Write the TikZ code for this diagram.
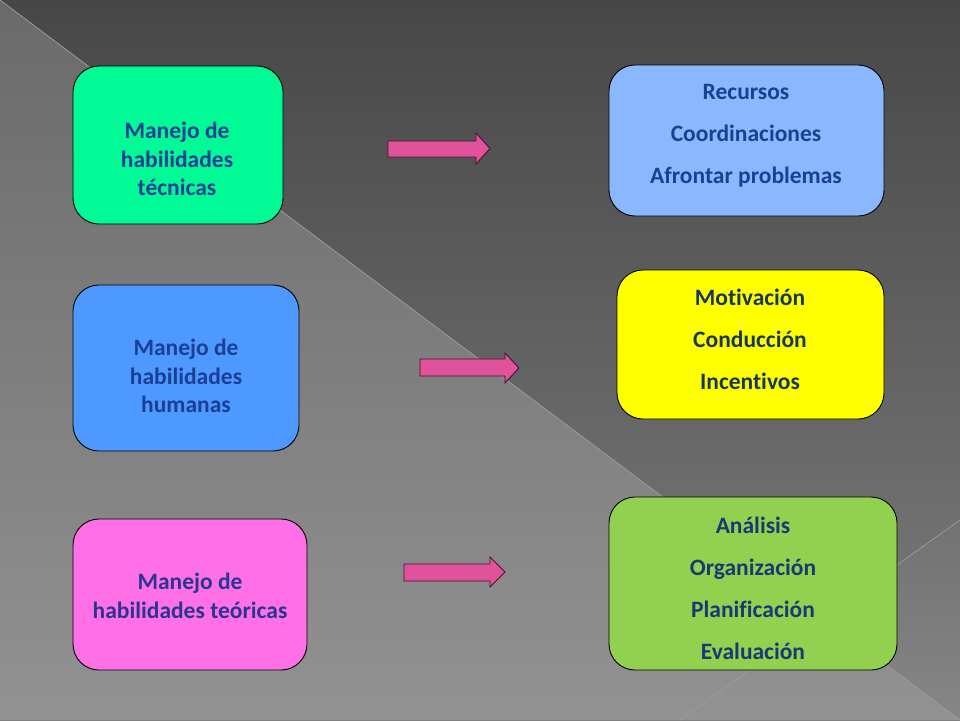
\documentclass[tikz,border=0pt]{standalone}
\usepackage{fontspec}
\setmainfont{Carlito}[Ligatures={NoCommon}]
\definecolor{bgtop}{HTML}{474747}
\definecolor{bgmid}{HTML}{7E7E7E}
\definecolor{lltop}{HTML}{6A6A6A}
\definecolor{llbot}{HTML}{929292}
\definecolor{rttop}{HTML}{727272}
\definecolor{rtbot}{HTML}{868686}
\definecolor{diag}{HTML}{9C9C9C}
\definecolor{cgreen}{HTML}{00FA96}
\definecolor{cblue}{HTML}{4D99FF}
\definecolor{cpink}{HTML}{FF70E6}
\definecolor{clblue}{HTML}{8AB8FF}
\definecolor{cyellow}{HTML}{FFFF00}
\definecolor{clgreen}{HTML}{92D050}
\definecolor{txtblue}{HTML}{1A3F94}
\definecolor{txtdark}{HTML}{17375E}
\definecolor{arrfill}{HTML}{E0529A}
\definecolor{arrdraw}{HTML}{4A1030}
\tikzset{
  box/.style={draw=black, line width=0.9pt, rounded corners=26pt, inner sep=0pt},
  lefttxt/.style={text=txtblue, align=center, font=\fontsize{23.5}{28.5}\selectfont\bfseries, inner sep=0pt},
  righttxt/.style={text=txtblue, align=center, font=\fontsize{23.5}{42}\selectfont\bfseries, inner sep=0pt},
  blockarrow/.style={fill=arrfill, draw=arrdraw, line width=0.9pt, line join=miter},
}
\begin{document}
\begin{tikzpicture}[x=1pt,y=-1pt]
\useasboundingbox (0,0) rectangle (960,720);
% background
\shade[top color=bgtop, bottom color=bgmid] (0,0) rectangle (960,720);
\shade[top color=lltop, bottom color=llbot] (0,0) -- (960,720) -- (0,720) -- cycle;
\shade[top color=rttop, bottom color=rtbot] (823.5,617.6) -- (960,520) -- (960,720) -- cycle;
\draw[diag, line width=0.7pt] (0,0) -- (960,720);
\draw[diag, line width=0.7pt] (960,520) -- (680,720);

% left boxes
\path[box, fill=cgreen] (73,66) rectangle (283,224);
\node[inner sep=0pt] (b1) at (178,145) {};
\node[lefttxt] (t1) at (177,159) {Manejo de\\habilidades\\técnicas};

\path[box, fill=cblue] (73,285) rectangle (299,451);
\node[inner sep=0pt] (b2) at (186,368) {};
\node[lefttxt] (t2) at (186,376) {Manejo de\\habilidades\\humanas};

\path[box, fill=cpink] (73,519) rectangle (307,670);
\node[inner sep=0pt] (b3) at (190,595) {};
\node[lefttxt, text=txtblue!85!violet] (t3) at (190,596) {Manejo de\\habilidades teóricas};

% right boxes
\path[box, fill=clblue] (609,65) rectangle (884,216);
\node[inner sep=0pt] (b4) at (746,140) {};
\node[righttxt] (t4) at (746,136) {Recursos\\Coordinaciones\\Afrontar problemas};

\path[box, fill=cyellow] (617,270) rectangle (884,419);
\node[inner sep=0pt] (b5) at (750,345) {};
\node[righttxt, text=txtdark] (t5) at (750,339) {Motivación\\Conducción\\Incentivos};

\path[box, fill=clgreen] (609,497) rectangle (897,670);
\node[inner sep=0pt] (b6) at (753,583) {};
\node[righttxt, text=txtdark!60!txtblue] (t6) at (753,588) {Análisis\\Organización\\Planificación\\Evaluación};

% block arrows
\draw[blockarrow] (388,141) -- (476,141) -- (476,133) -- (490,148.5) -- (476,164) -- (476,157) -- (388,157) -- cycle;
\draw[blockarrow] (420,359) -- (505,359) -- (505,353) -- (519,368) -- (505,383) -- (505,376) -- (420,376) -- cycle;
\draw[blockarrow] (404,564) -- (490,564) -- (490,557) -- (505,572) -- (490,587) -- (490,581) -- (404,581) -- cycle;
\end{tikzpicture}
\end{document}
